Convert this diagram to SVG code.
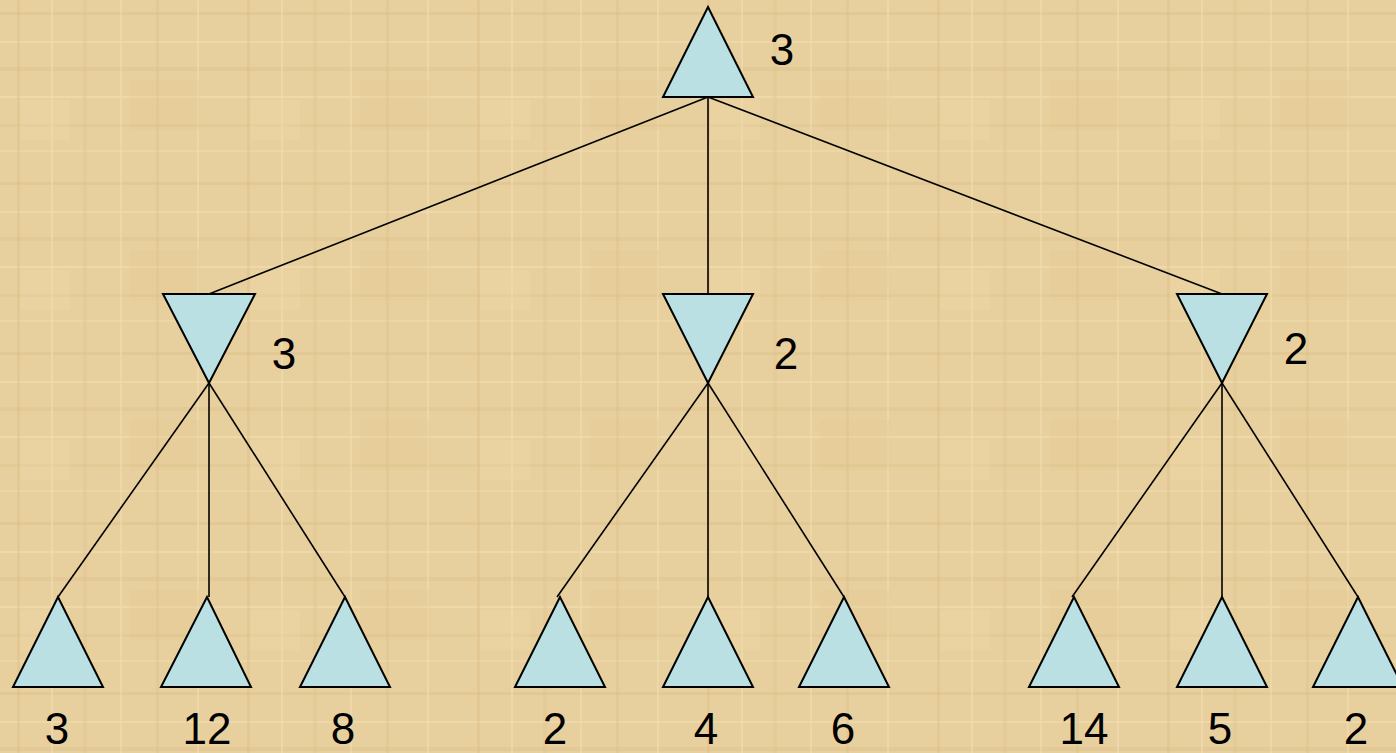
<svg xmlns="http://www.w3.org/2000/svg" width="1396" height="753" viewBox="0 0 1396 753">
<style>
.tri{fill:#BAE0E3;stroke:#000;stroke-width:2;stroke-linejoin:miter}
.lbl{font-family:"Liberation Sans",Arial,sans-serif;font-size:44px;fill:#000;text-anchor:middle}
.edge{stroke:#000;stroke-width:1.6;fill:none}
</style>
<defs>
<pattern id="pap" x="0" y="0" width="230" height="170" patternUnits="userSpaceOnUse">
<rect width="230" height="170" fill="#E8D09E"/>
<rect x="0" y="12" width="230" height="3" fill="#DCC088" opacity="0.45"/>
<rect x="0" y="41" width="230" height="2" fill="#F2DDB0" opacity="0.6"/>
<rect x="0" y="67" width="230" height="4" fill="#D9BC82" opacity="0.35"/>
<rect x="0" y="96" width="230" height="2" fill="#F3E0B6" opacity="0.55"/>
<rect x="0" y="124" width="230" height="3" fill="#DDC28A" opacity="0.4"/>
<rect x="0" y="150" width="230" height="2" fill="#F1DCAE" opacity="0.5"/>
<rect x="17" y="0" width="3" height="170" fill="#D8BB80" opacity="0.35"/>
<rect x="51" y="0" width="2" height="170" fill="#F2DEB3" opacity="0.55"/>
<rect x="83" y="0" width="4" height="170" fill="#DDC28A" opacity="0.35"/>
<rect x="120" y="0" width="2" height="170" fill="#F1DCAE" opacity="0.55"/>
<rect x="156" y="0" width="3" height="170" fill="#D9BD84" opacity="0.35"/>
<rect x="197" y="0" width="2" height="170" fill="#F3E0B6" opacity="0.5"/>
<rect x="130" y="80" width="70" height="50" fill="#DFC48C" opacity="0.25"/>
<rect x="20" y="100" width="50" height="40" fill="#F0DAAA" opacity="0.3"/>
</pattern>
</defs>
<rect width="1396" height="753" fill="url(#pap)"/>
<g id="connectors">
<line class="edge" x1="708" y1="97" x2="209" y2="294"/>
<line class="edge" x1="708" y1="97" x2="708" y2="294"/>
<line class="edge" x1="708" y1="97" x2="1222" y2="294"/>
<line class="edge" x1="209" y1="383" x2="58" y2="597"/>
<line class="edge" x1="209" y1="383" x2="209" y2="597"/>
<line class="edge" x1="209" y1="383" x2="345" y2="597"/>
<line class="edge" x1="708" y1="383" x2="557" y2="597"/>
<line class="edge" x1="708" y1="383" x2="708" y2="597"/>
<line class="edge" x1="708" y1="383" x2="844" y2="597"/>
<line class="edge" x1="1222" y1="383" x2="1072" y2="597"/>
<line class="edge" x1="1222" y1="383" x2="1222" y2="597"/>
<line class="edge" x1="1222" y1="383" x2="1358" y2="597"/>
</g>
<g id="root"><polygon class="tri" points="708,7 663,97 753,97"/><text class="lbl" x="782" y="65">3</text></g>
<g id="min1"><polygon class="tri" points="163,294 255,294 209,383"/><text class="lbl" x="284" y="369">3</text></g>
<g id="min2"><polygon class="tri" points="663,294 753,294 708,383"/><text class="lbl" x="786" y="369">2</text></g>
<g id="min3"><polygon class="tri" points="1177,294 1267,294 1222,383"/><text class="lbl" x="1296" y="364">2</text></g>
<g id="leaf1"><polygon class="tri" points="58,597 13,687 103,687"/><text class="lbl" x="57" y="744">3</text></g>
<g id="leaf2"><polygon class="tri" points="207,597 161,687 251,687"/><text class="lbl" x="207" y="744">12</text></g>
<g id="leaf3"><polygon class="tri" points="345,597 300,687 390,687"/><text class="lbl" x="343" y="744">8</text></g>
<g id="leaf4"><polygon class="tri" points="560,597 515,687 605,687"/><text class="lbl" x="555" y="744">2</text></g>
<g id="leaf5"><polygon class="tri" points="708,597 663,687 753,687"/><text class="lbl" x="706" y="744">4</text></g>
<g id="leaf6"><polygon class="tri" points="844,597 799,687 889,687"/><text class="lbl" x="843" y="744">6</text></g>
<g id="leaf7"><polygon class="tri" points="1074,597 1029,687 1119,687"/><text class="lbl" x="1084" y="744">14</text></g>
<g id="leaf8"><polygon class="tri" points="1222,597 1177,687 1267,687"/><text class="lbl" x="1220" y="744">5</text></g>
<g id="leaf9"><polygon class="tri" points="1358,597 1313,687 1403,687"/><text class="lbl" x="1356" y="744">2</text></g>
</svg>
